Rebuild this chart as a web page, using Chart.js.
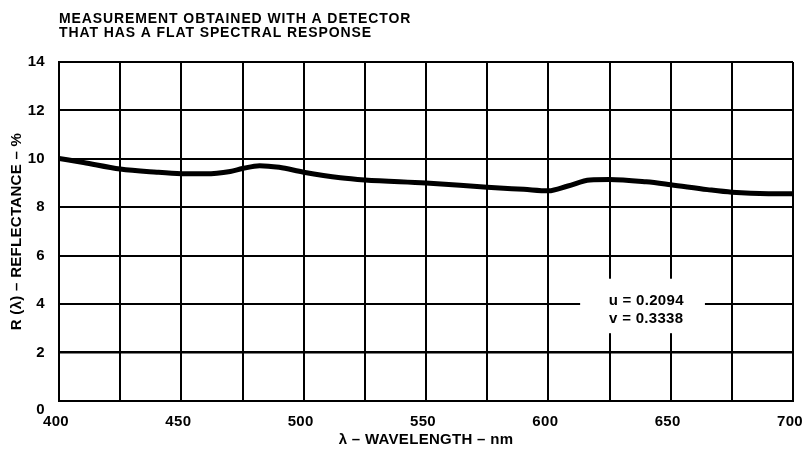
<!DOCTYPE html>
<html>
<head>
<meta charset="utf-8">
<script src="https://cdn.jsdelivr.net/npm/chart.js@4/dist/chart.umd.min.js"></script>
<style>
html, body { margin: 0; padding: 0; background: #fff; }
#wrap { width: 804px; height: 452px; }
</style>
</head>
<body>
<div id="wrap"><canvas id="myChart"></canvas></div>
<script>
// reflectance curve
var wavelengths = [400, 410, 425, 440, 450, 460, 470, 475, 482, 490, 500, 515, 525, 550, 575, 590, 600, 608, 617, 625, 640, 650, 665, 675, 690, 700];
var reflectance = [10.02, 9.85, 9.58, 9.45, 9.39, 9.38, 9.48, 9.6, 9.72, 9.65, 9.45, 9.22, 9.13, 9.0, 8.83, 8.74, 8.68, 8.88, 9.13, 9.15, 9.05, 8.93, 8.73, 8.62, 8.56, 8.56];

var titleLines = ['MEASUREMENT OBTAINED WITH A DETECTOR', 'THAT HAS A FLAT SPECTRAL RESPONSE'];
var noteLines = ['u = 0.2094', 'v = 0.3338'];

var fontFamily = '"Liberation Sans", Arial, Helvetica, sans-serif';
var boldFont = { family: fontFamily, size: 15, weight: 'bold' };

var points = [];
for (var i = 0; i < wavelengths.length; i++) {
    points.push({ x: wavelengths[i], y: reflectance[i] });
}

// widen the lettering a little, like the scanned original
var spacing = {
    id: 'spacing',
    beforeLayout: function (chart) { chart.ctx.letterSpacing = '0.3px'; },
    beforeDraw: function (chart) { chart.ctx.letterSpacing = '0.3px'; }
};

// heading above the plot and the u/v note inside it
var notes = {
    id: 'notes',
    afterDraw: function (chart) {
        var ctx = chart.ctx;
        var x = chart.scales.x, y = chart.scales.y;
        ctx.save();
        ctx.fillStyle = '#000';
        ctx.font = 'bold 14px ' + fontFamily;
        ctx.letterSpacing = '0.9px';
        ctx.textAlign = 'left';
        ctx.textBaseline = 'middle';
        ctx.fillText(titleLines[0], chart.chartArea.left, 19);
        ctx.fillText(titleLines[1], chart.chartArea.left, 33);

        // white patch that breaks the grid behind the note
        var x0 = x.getPixelForValue(613), x1 = x.getPixelForValue(664);
        var y0 = y.getPixelForValue(5.05), y1 = y.getPixelForValue(2.8);
        ctx.fillStyle = '#fff';
        ctx.fillRect(x0, y0, x1 - x0, y1 - y0);
        ctx.fillStyle = '#000';
        ctx.font = 'bold 15px ' + fontFamily;
        ctx.letterSpacing = '0.3px';
        ctx.textAlign = 'center';
        ctx.fillText(noteLines[0], x.getPixelForValue(640), y.getPixelForValue(4.15));
        ctx.fillText(noteLines[1], x.getPixelForValue(640), y.getPixelForValue(3.4));
        ctx.restore();
    }
};

var ctx2 = document.getElementById('myChart').getContext('2d');
var chart = new Chart(ctx2, {
    type: 'line',
    data: {
        datasets: [{
            data: points,
            borderColor: '#000',
            backgroundColor: '#000',
            borderWidth: 5,
            pointRadius: 0,
            cubicInterpolationMode: 'monotone',
            fill: false
        }]
    },
    options: {
        responsive: true,
        maintainAspectRatio: false,
        animation: false,
        layout: { padding: { left: 0, right: 11, top: 62, bottom: 0 } },
        plugins: { legend: { display: false }, tooltip: { enabled: false } },
        scales: {
            x: {
                type: 'linear',
                min: 400,
                max: 700,
                ticks: {
                    stepSize: 25,
                    autoSkip: false,
                    maxRotation: 0,
                    padding: 12,
                    labelOffset: -3,
                    color: '#000',
                    font: boldFont,
                    callback: function (v) { return v % 50 === 0 ? String(v) : ''; }
                },
                grid: { color: '#000', lineWidth: 2, drawTicks: false },
                border: { color: '#000', width: 2 },
                title: {
                    display: true,
                    text: 'λ – WAVELENGTH – nm',
                    color: '#000',
                    font: boldFont,
                    padding: { top: 0, bottom: 3 }
                },
                afterFit: function (s) { s.height = 51; s.paddingRight = 11; }
            },
            y: {
                min: 0,
                max: 14,
                ticks: {
                    stepSize: 2,
                    padding: 14,
                    color: '#000',
                    font: boldFont,
                    // the zero sits a little below its line in the original
                    callback: function (v) { return v === 0 ? ['', '0'] : String(v); }
                },
                grid: {
                    color: '#000',
                    drawTicks: false,
                    lineWidth: function (c) { return c.tick && c.tick.value === 2 ? 2.6 : 2; }
                },
                border: { color: '#000', width: 2 },
                title: {
                    display: true,
                    text: 'R (λ) – REFLECTANCE – %',
                    color: '#000',
                    font: boldFont,
                    padding: { top: 8, bottom: 0 }
                },
                afterFit: function (s) { s.width = 59; }
            }
        }
    },
    plugins: [spacing, notes]
});
</script>
</body>
</html>
